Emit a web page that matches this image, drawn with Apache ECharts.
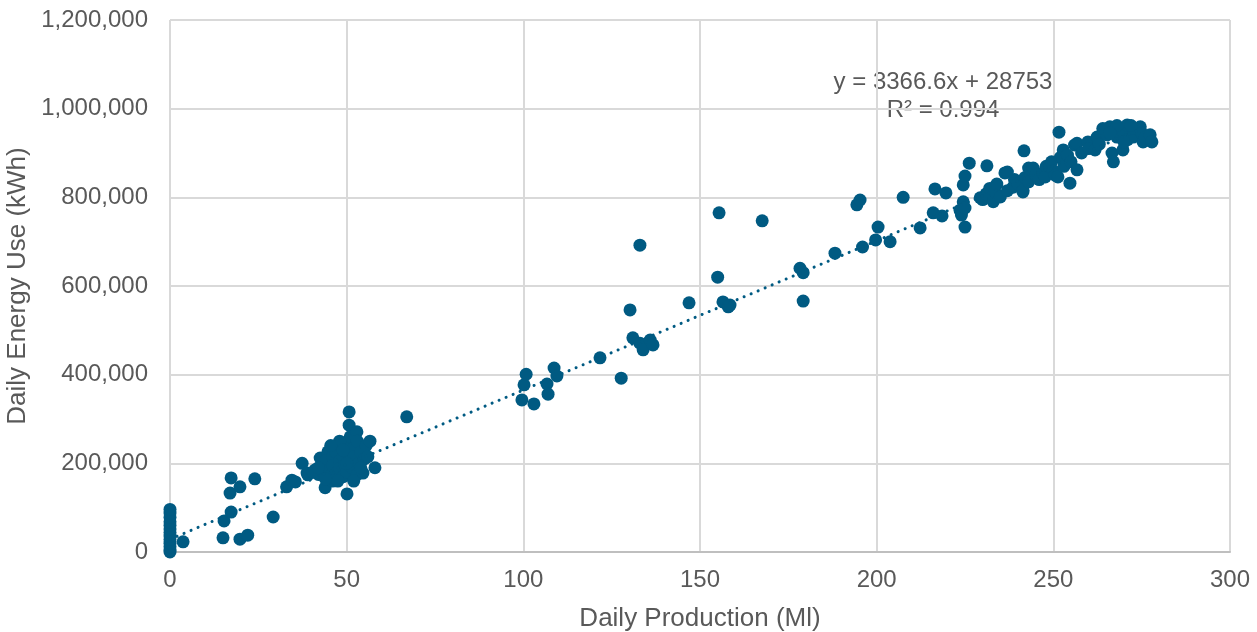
<!DOCTYPE html>
<html><head><meta charset="utf-8">
<script src="https://cdn.jsdelivr.net/npm/echarts@6/dist/echarts.min.js"></script>
<style>html,body{margin:0;padding:0;background:#fff}#c{width:1257px;height:632px}</style>
</head><body><div id="c"></div>
<script>
// Daily production (Ml) and daily energy use (kWh)
const production = [
 0,0,0,0,0,0,0,0,0,0,0,0,0,
 3.7,15,15.3,17,17.3,17.3,19.8,19.8,22,24,29.2,33,34.5,35.5,37.4,38.8,39,
 42.5,43.9,44.7,41,42,43,44,45,45,46,46,47,47,48,48,48.5,49,49,49.5,50,50,50,50.1,50.7,50.7,51,51,51.5,52,52,52.9,53,53,53.5,54,54.6,55,55.5,56.6,58,46,44,52,48,50,45.5,47.5,54,56,49,40.5,42,
 67,99.6,100.2,100.8,103,106.7,107,108.7,109.5,121.7,127.7,130.2,131,133,133,133.9,135.9,136.7,146.9,155,155.4,156.5,158,158.5,167.6,178.3,179.2,179.2,188.2,194.4,195.3,196,199.7,200.4,203.8,207.5,212.3,216,216.5,218.5,219.6,223.6,224,224.5,224.5,225,225,225,226.2,231.2,
 229.3,230,231,232,233,233.5,234,235,236.3,237,237,238.6,239,240,241.4,241.4,241.7,242,243,243,244.3,245,246,247,247.7,248,249,249.5,250,250.5,251.3,251.6,252,252.8,252.8,253,254,254.7,255,256,256.7,256.7,258,259.8,260,261.8,262.4,263,265.2,266,266.6,267,268,268,269.7,270,270.9,271,272.6,273,274.6,275,275.4,276,277.4,277.9,264,268,272,266,270
];
const energy = [
 0,5000,12000,20000,28000,36000,44000,52000,60000,68000,78000,88000,96000,
 23000,32000,70000,133000,167000,90000,147000,29000,38000,165000,79000,147000,162000,158000,200000,178000,174000,
 212000,145000,226000,185000,175000,195000,205000,185000,170000,215000,195000,178000,225000,205000,188000,240000,170000,215000,195000,246000,225000,180000,131000,316000,286000,260000,205000,190000,235000,215000,271000,175000,250000,200000,225000,178000,210000,240000,250000,190000,160000,165000,160000,250000,200000,240000,160000,190000,215000,230000,180000,190000,
 305000,343000,377000,401000,334000,379000,356000,415000,397000,438000,392000,546000,483000,471000,692000,456000,478000,467000,562000,620000,765000,564000,553000,557000,747000,640000,630000,566000,674000,783000,794000,688000,704000,733000,700000,800000,731000,765000,819000,758000,810000,771000,760000,790000,828000,848000,733000,776000,877000,871000,
 799000,795000,808000,820000,790000,812000,830000,801000,855000,857000,815000,823000,840000,830000,812000,816000,905000,845000,866000,835000,866000,850000,840000,855000,846000,870000,869000,880000,860000,850000,846000,947000,890000,907000,884000,870000,895000,832000,880000,918000,862000,922000,900000,925000,910000,907000,936000,920000,941000,959000,900000,880000,936000,950000,907000,945000,963000,930000,936000,955000,959000,945000,925000,935000,941000,925000,955000,962000,962000,945000,925000
];
const trendSlope = 3366.6, trendIntercept = 28753;
const trendX = [0, 276];
const equationText = ['y = 3366.6x + 28753', 'R² = 0.994'];
const xTitle = 'Daily Production (Ml)';
const yTitle = 'Daily Energy Use (kWh)';

const points = production.map((x, i) => [x, energy[i]]);
const trend = trendX.map(x => [x, trendSlope * x + trendIntercept]);
const txt = '#595959', font = 'Liberation Sans, Arial, sans-serif';
const chart = echarts.init(document.getElementById('c'));
chart.setOption({
  animation: false,
  textStyle: {fontFamily: font},
  grid: {left: 170, right: 27, top: 20, bottom: 80, containLabel: false, outerBoundsMode: 'none'},
  xAxis: {
    type: 'value', min: 0, max: 300, interval: 50,
    name: xTitle, nameLocation: 'middle', nameGap: 54,
    nameTextStyle: {color: txt, fontSize: 26, fontFamily: font},
    axisLine: {show: true, lineStyle: {color: '#bfbfbf', width: 2}},
    axisTick: {show: false},
    axisLabel: {color: txt, fontSize: 24, margin: 16, fontFamily: font},
    splitLine: {show: true, lineStyle: {color: '#d9d9d9', width: 2}}
  },
  yAxis: {
    type: 'value', min: 0, max: 1200000, interval: 200000,
    name: yTitle, nameLocation: 'middle', nameGap: 134, nameRotate: 90,
    nameTextStyle: {color: txt, fontSize: 26, fontFamily: font},
    axisLine: {show: false}, axisTick: {show: false},
    axisLabel: {color: txt, fontSize: 24, margin: 22, fontFamily: font,
      formatter: v => v.toLocaleString('en-US')},
    splitLine: {show: true, lineStyle: {color: '#d9d9d9', width: 2}}
  },
  series: [
    {type: 'scatter', data: points, symbolSize: 13, itemStyle: {color: '#005a82', opacity: 1}, z: 3},
    {type: 'line', data: trend, symbol: 'none', z: 4,
      lineStyle: {color: '#005a82', width: 3, type: [0.1, 7.5], cap: 'round'}}
  ],
  graphic: [
    {type: 'text', x: 943, y: 82, style: {text: equationText[0], fill: txt, font: '24px ' + font, align: 'center', verticalAlign: 'middle'}},
    {type: 'text', x: 943, y: 110, style: {text: equationText[1], fill: txt, font: '24px ' + font, align: 'center', verticalAlign: 'middle'}}
  ]
});
</script></body></html>
